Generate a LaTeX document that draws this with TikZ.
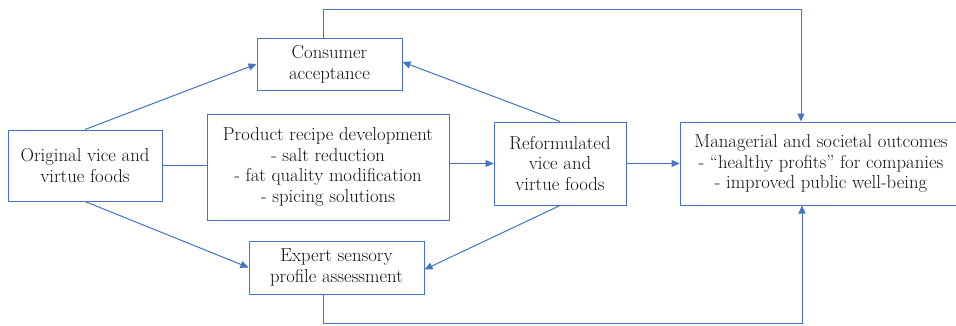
\documentclass[tikz,border=0pt]{standalone}
\usetikzlibrary{arrows.meta,calc}
\definecolor{lineblue}{HTML}{4472C4}
\definecolor{txt}{HTML}{111111}
\begin{document}
\begin{tikzpicture}[x=1pt,y=-1pt,
  box/.style={draw=lineblue,line width=1pt,fill=white,align=center,inner sep=0pt,
    text=txt,font=\fontsize{18.7}{20.7}\selectfont},
  arr/.style={draw=lineblue,line width=1pt,-{Triangle[length=8pt,width=7pt]}},
  ln/.style={draw=lineblue,line width=1pt}]
\clip (0,0) rectangle (956,325);
\fill[white] (0,0) rectangle (956,325);
\node[box,minimum width=154pt,minimum height=71pt] (orig) at (85,165.5) {Original vice and\\virtue foods};
\node[box,minimum width=145pt,minimum height=52pt] (cons) at (329.5,64) {Consumer\\acceptance};
\node[box,minimum width=242pt,minimum height=106pt] (prod) at (328,167) {Product recipe development\\- salt reduction\\- fat quality modification\\- spicing solutions};
\node[box,minimum width=175pt,minimum height=53pt] (exp) at (336.5,267.5) {Expert sensory\\profile assessment};
\node[box,minimum width=132pt,minimum height=83pt] (ref) at (560,163.5) {Reformulated\\vice and\\virtue foods};
\node[box,minimum width=282pt,minimum height=83pt] (man) at (821,163.5) {Managerial and societal outcomes\\- \textquotedblleft healthy profits\textquotedblright\ for companies\\- improved public well-being};
\coordinate (topc) at (801,9);
\coordinate (botc) at (802,323);
\draw[arr] (orig.north) -- (cons.west);
\draw[arr] (orig.south) -- (exp.west);
\draw[ln] (orig.east) -- (orig.east -| prod.west);
\draw[arr] (ref.west -| prod.east) -- (ref.west);
\draw[arr] (ref.north) -- ([yshift=2pt]cons.east);
\draw[arr] (ref.south) -- ([yshift=-2pt]exp.east);
\draw[arr] (ref.east) -- (man.west);
\draw[arr] ([xshift=-6.5pt]cons.north) |- (topc) -- (topc |- man.north);
\draw[arr] ([xshift=-13.5pt]exp.south) |- (botc) -- (botc |- man.south);
\end{tikzpicture}
\end{document}
